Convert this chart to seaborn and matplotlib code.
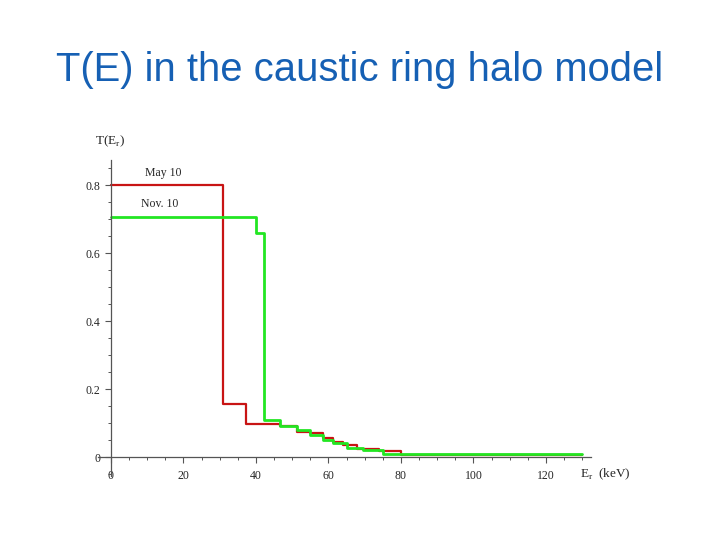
import matplotlib
matplotlib.use("Agg")
import matplotlib.pyplot as plt
from matplotlib.ticker import MultipleLocator
import seaborn as sns
import pandas as pd

# step start energies (keV) and T values
may_e = [0, 31.0, 37.2, 46.6, 51.3, 55.0, 58.5, 61.2, 64.0, 68.0, 74.0, 80.0, 130.0]
may_t = [0.80, 0.157, 0.097, 0.091, 0.074, 0.070, 0.056, 0.044, 0.035, 0.024, 0.018, 0.006, 0.006]
nov_e = [0, 40.0, 42.2, 46.6, 51.3, 55.0, 58.5, 61.2, 65.0, 69.5, 75.0, 130.0]
nov_t = [0.707, 0.660, 0.109, 0.091, 0.079, 0.065, 0.050, 0.041, 0.026, 0.021, 0.008, 0.008]

may = pd.DataFrame({"E": may_e, "T": may_t})
nov = pd.DataFrame({"E": nov_e, "T": nov_t})

sns.set_style("white")
serif = ["Liberation Serif", "DejaVu Serif"]

fig = plt.figure(figsize=(7.2, 5.4), dpi=100)
ax = fig.add_axes([0.1365, 0.119, 0.6847, 0.5856])

sns.lineplot(data=may, x="E", y="T", ax=ax, color="#c81414", lw=1.6,
             drawstyle="steps-post", sort=False)
sns.lineplot(data=nov, x="E", y="T", ax=ax, color="#22e622", lw=2.0,
             drawstyle="steps-post", sort=False)

ax.set_xlim(-3.5, 132.5)
ax.set_ylim(-0.055, 0.875)
ax.spines["left"].set_position(("data", 0))
ax.spines["bottom"].set_position(("data", 0))
ax.spines["top"].set_visible(False)
ax.spines["right"].set_visible(False)
for s in ["left", "bottom"]:
    ax.spines[s].set_color("#555555")
    ax.spines[s].set_linewidth(0.9)

ax.xaxis.set_major_locator(MultipleLocator(20))
ax.xaxis.set_minor_locator(MultipleLocator(5))
ax.yaxis.set_major_locator(MultipleLocator(0.2))
ax.yaxis.set_minor_locator(MultipleLocator(0.05))
ax.set_xticks([0, 20, 40, 60, 80, 100, 120])
ax.set_xticklabels(["0", "20", "40", "60", "80", "100", "120"])
ax.set_yticks([0, 0.2, 0.4, 0.6, 0.8])
ax.set_yticklabels(["0", "0.2", "0.4", "0.6", "0.8"])
ax.tick_params(which="both", direction="out", color="#555555", bottom=True, left=True)
ax.tick_params(which="major", length=4, width=0.8, labelsize=8.5)
ax.tick_params(which="minor", length=2.5, width=0.7)
ax.tick_params(axis="x", pad=5)
for lab in ax.get_xticklabels() + ax.get_yticklabels():
    lab.set_family(serif)
ax.set_xlabel("")
ax.set_ylabel("")

ax.text(-4.5, 0.93, r"T(E$_\mathregular{r}$)", family=serif, fontsize=9.5,
        ha="left", va="center", clip_on=False)
ax.text(129.5, -0.05, r"E$_\mathregular{r}$  (keV)", family=serif, fontsize=9.5,
        ha="left", va="center", clip_on=False)
ax.text(14.5, 0.835, "May 10", family=serif, fontsize=8.5, ha="center", va="center")
ax.text(13.5, 0.745, "Nov. 10", family=serif, fontsize=8.5, ha="center", va="center")

fig.text(0.5, 0.87, "T(E) in the caustic ring halo model", color="#1660b4",
         fontsize=28.8, family=["Liberation Sans", "DejaVu Sans"], ha="center", va="center")

fig.savefig("out.png", dpi=100)
